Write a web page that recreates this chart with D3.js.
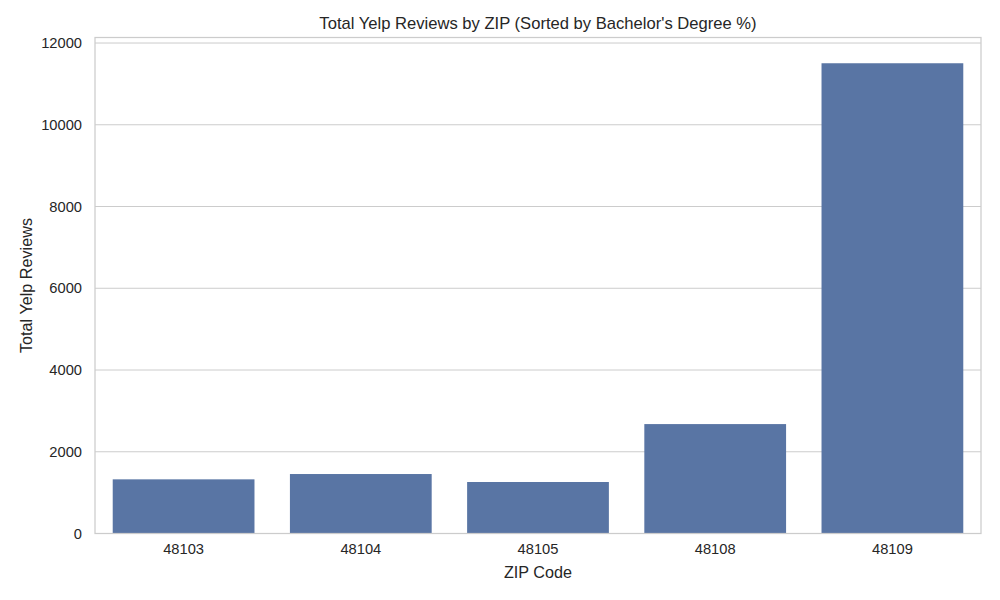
<!DOCTYPE html>
<html><head><meta charset="utf-8">
<script src="https://cdn.jsdelivr.net/npm/d3@7"></script>
<style>body{margin:0;background:#fff}text{font-family:"Liberation Sans",Arial,sans-serif;fill:#262626}</style>
</head><body><svg id="c" width="1000" height="600"></svg>
<script>
const zips = ["48103","48104","48105","48108","48109"];
const reviews = [1325, 1455, 1260, 2677, 11505];
const yTicks = [0,2000,4000,6000,8000,10000,12000];

const svg = d3.select("#c");
const m = {l:95, r:981, t:37.5, b:533.5};
const x = d3.scaleBand().domain(zips).range([m.l, m.r]).paddingInner(0.2).paddingOuter(0.1);
const y = d3.scaleLinear().domain([0, 12135]).range([m.b, m.t]);

// grid
svg.append("g").selectAll("line").data(yTicks).join("line")
  .attr("x1", m.l).attr("x2", m.r).attr("y1", d=>y(d)).attr("y2", d=>y(d))
  .attr("stroke", "#cccccc").attr("stroke-width", 1);

// bars
svg.append("g").selectAll("rect").data(zips).join("rect")
  .attr("x", d=>x(d)).attr("width", x.bandwidth())
  .attr("y", (d,i)=>y(reviews[i])).attr("height", (d,i)=>y(0)-y(reviews[i]))
  .attr("fill", "#5975a4");

// frame
svg.append("rect").attr("x", m.l).attr("y", m.t).attr("width", m.r-m.l).attr("height", m.b-m.t)
  .attr("fill","none").attr("stroke","#cccccc").attr("stroke-width",1.25);

// y axis
const ya = svg.append("g").attr("transform", `translate(${m.l},0)`)
  .call(d3.axisLeft(y).tickValues(yTicks).tickSize(0).tickPadding(13).tickFormat(d3.format("d")));
ya.select(".domain").remove();
ya.selectAll("text").attr("font-size", 14.7).attr("fill", "#262626").style("font-family", '"Liberation Sans",Arial,sans-serif');

// x axis
const xa = svg.append("g").attr("transform", `translate(0,${m.b})`)
  .call(d3.axisBottom(x).tickSize(0).tickPadding(10));
xa.select(".domain").remove();
xa.selectAll("text").attr("font-size", 14.7).attr("fill", "#262626").style("font-family", '"Liberation Sans",Arial,sans-serif');

// labels
svg.append("text").attr("x", (m.l+m.r)/2).attr("y", 578).attr("text-anchor","middle")
  .attr("font-size", 16.2).text("ZIP Code");
svg.append("text").attr("transform", `translate(31.5,${(m.t+m.b)/2}) rotate(-90)`).attr("text-anchor","middle")
  .attr("font-size", 16.2).text("Total Yelp Reviews");
svg.append("text").attr("x", (m.l+m.r)/2).attr("y", 29).attr("text-anchor","middle")
  .attr("font-size", 16.6).text("Total Yelp Reviews by ZIP (Sorted by Bachelor's Degree %)");
</script></body></html>
